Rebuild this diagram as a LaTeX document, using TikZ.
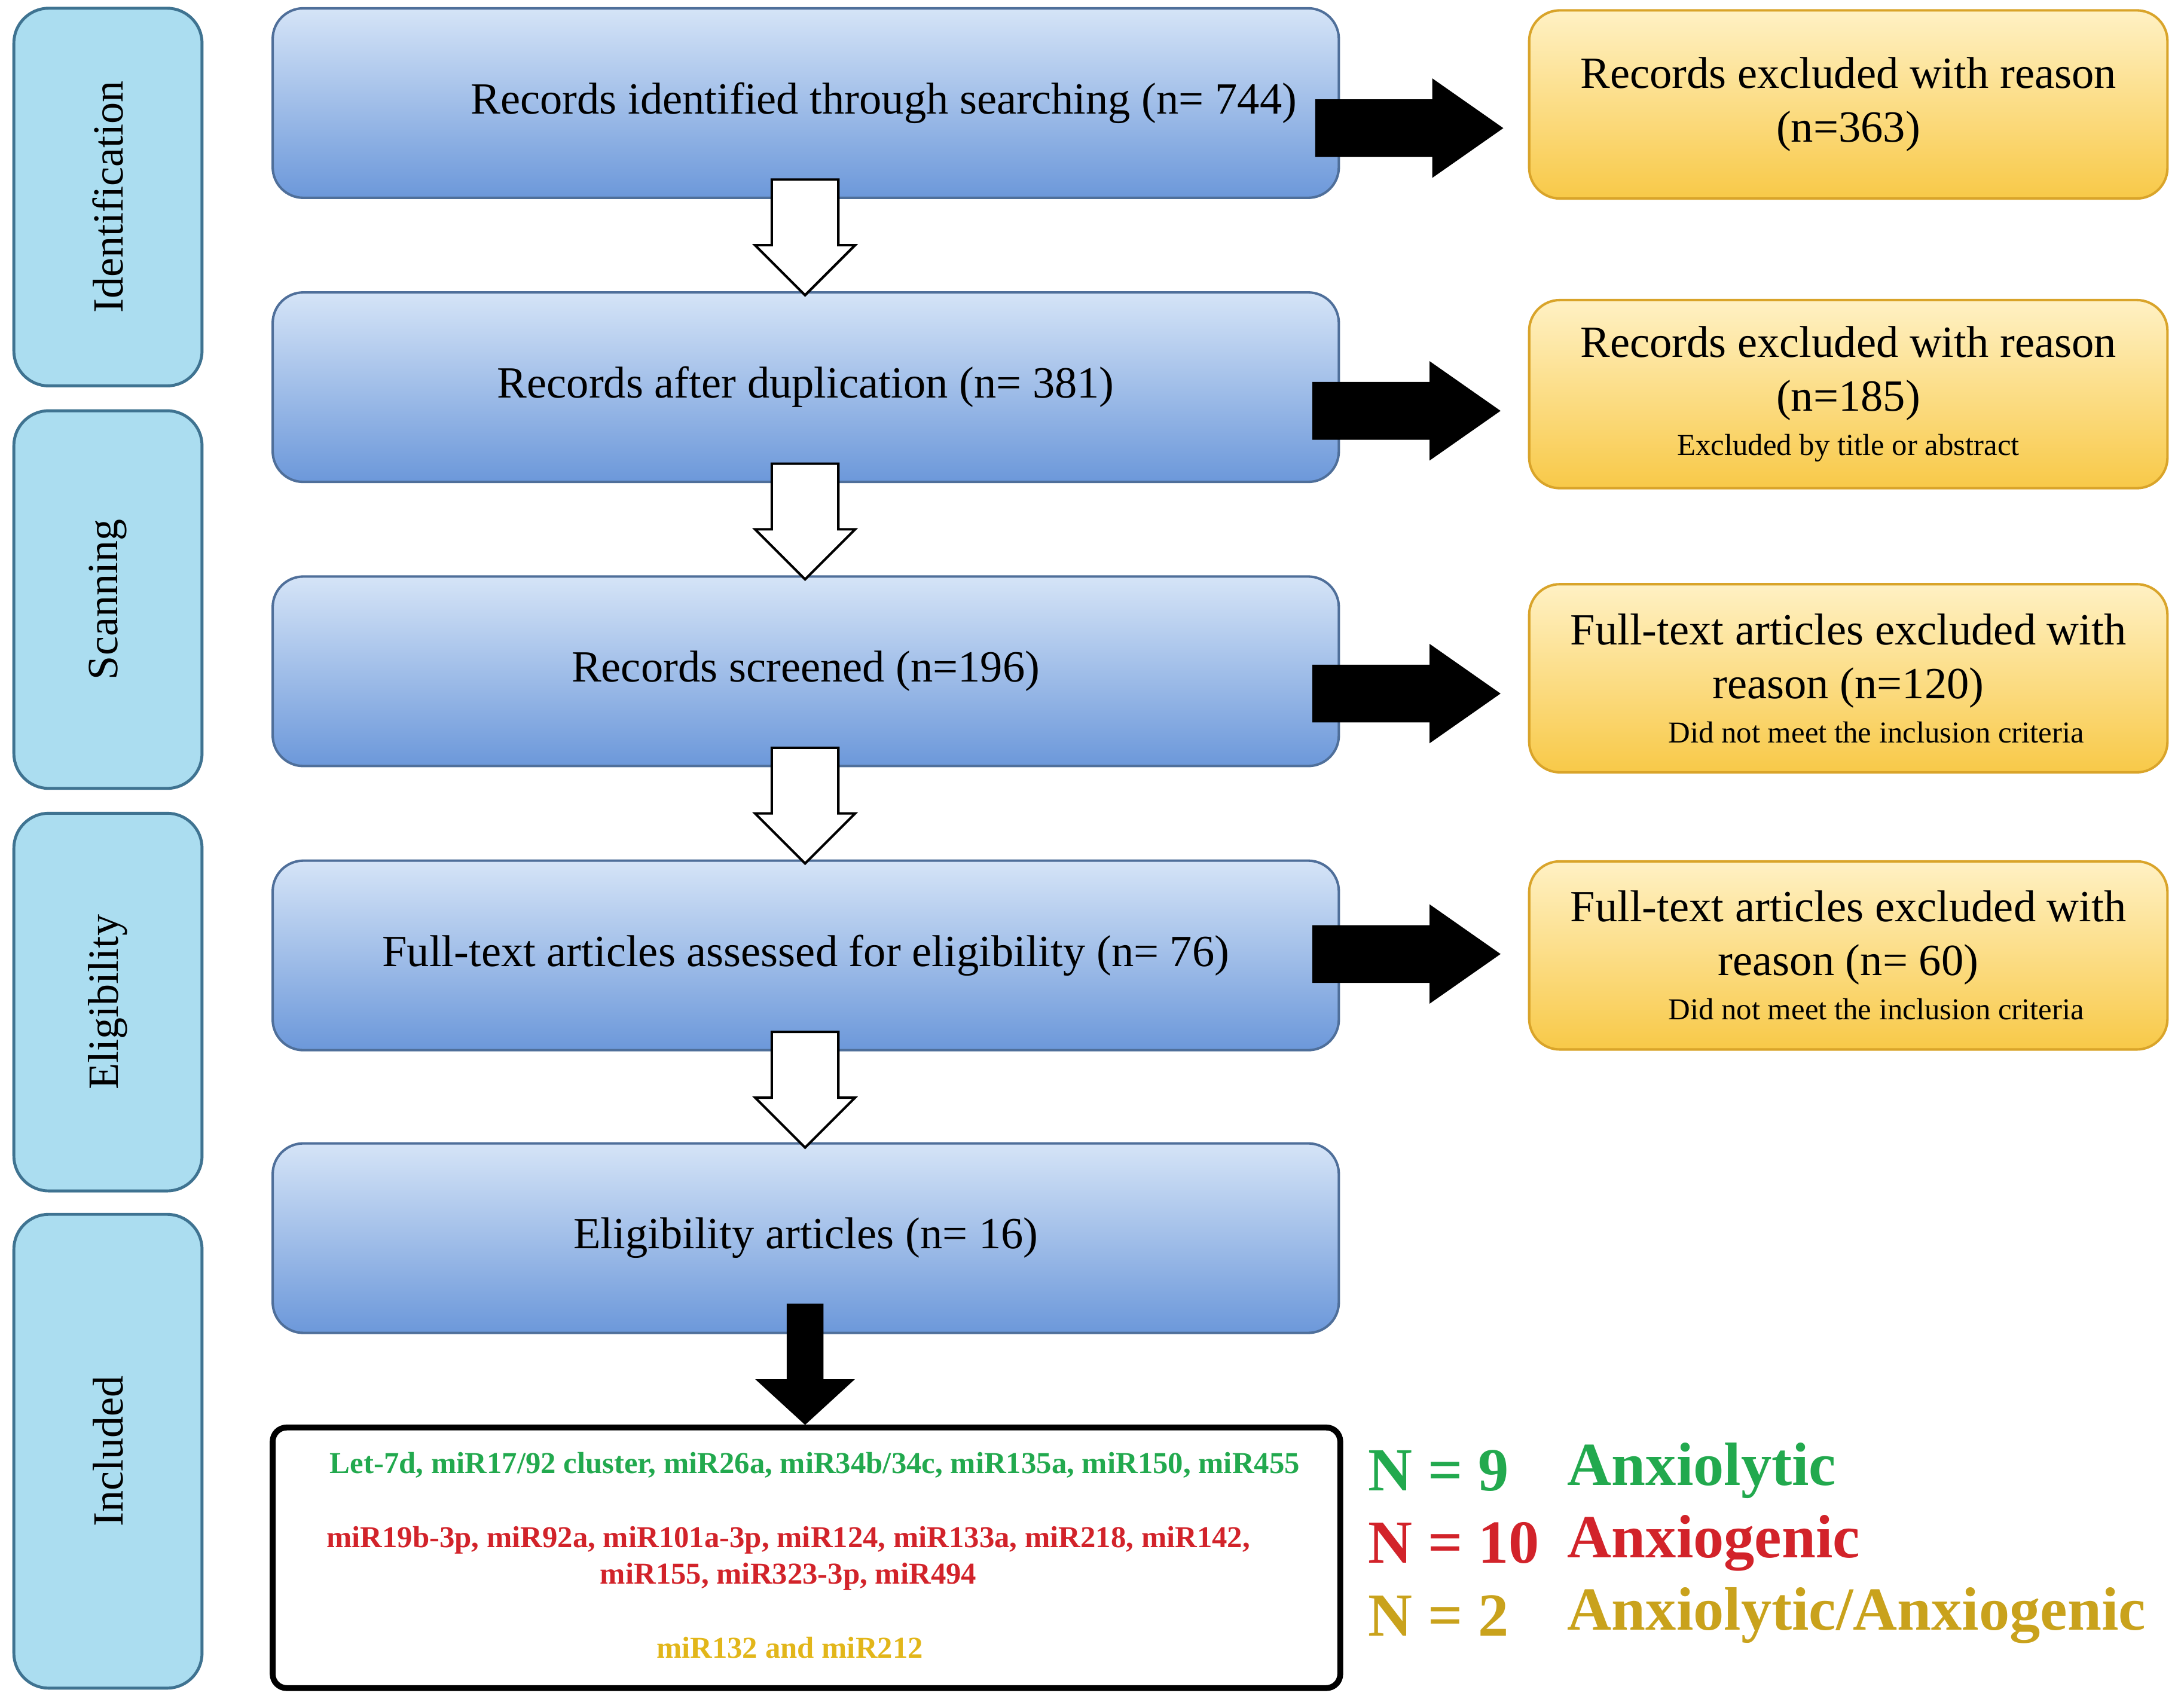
\documentclass[tikz,border=0pt]{standalone}
\usepackage{fontspec}
\setmainfont{Liberation Serif}
\usetikzlibrary{shapes.arrows}

\definecolor{stageblue}{HTML}{ABDDF0}
\definecolor{stageline}{HTML}{3F7391}
\definecolor{boxtop}{HTML}{D5E4F7}
\definecolor{boxbot}{HTML}{6C98DA}
\definecolor{boxline}{HTML}{4F6F9A}
\definecolor{exctop}{HTML}{FFF1C4}
\definecolor{excbot}{HTML}{F8C948}
\definecolor{excline}{HTML}{D9A42A}
\definecolor{mirgreen}{HTML}{22A94E}
\definecolor{mirred}{HTML}{D2232A}
\definecolor{mirgold}{HTML}{E2B61A}
\definecolor{ngold}{HTML}{C9A21C}

\begin{document}
\begin{tikzpicture}[x=0.01cm, y=-0.01cm,
  stage/.style={draw=stageline, line width=0.6pt, fill=stageblue, rounded corners=0.25cm,
    minimum width=1.35cm, inner sep=0pt, font=\fontsize{8.8}{10}\selectfont},
  stepbox/.style={draw=boxline, line width=0.5pt, top color=boxtop, bottom color=boxbot,
    rounded corners=0.22cm, minimum width=7.65cm, minimum height=1.36cm,
    font=\fontsize{9.1}{10}\selectfont},
  excl/.style={draw=excline, line width=0.5pt, top color=exctop, bottom color=excbot,
    rounded corners=0.22cm, minimum width=4.58cm, minimum height=1.35cm, align=center,
    font=\fontsize{9.1}{11}\selectfont},
  hollow/.style={single arrow, draw=black, fill=white, line width=0.5pt, shape border rotate=270,
    minimum height=0.83cm, inner xsep=0.23cm, inner ysep=0pt, single arrow head extend=0.12cm},
  blackarrow/.style={single arrow, fill=black, inner xsep=0pt, inner ysep=0.2cm,
    minimum height=1.35cm, single arrow head extend=0.15cm, single arrow tip angle=70},
  mir/.style={font=\fontsize{6.2}{7.4}\selectfont\bfseries, align=center},
  count/.style={anchor=west, font=\fontsize{12.5}{14}\selectfont\bfseries}]
  \useasboundingbox (0,0) rectangle (1568,1222);

  % stages
  \node[stage, minimum height=2.71cm] (ident) at (77.5,141.5) {\rotatebox{90}{Identification}};
  \node[stage, minimum height=2.71cm] (scan)  at (77.5,430.5) {\rotatebox{90}{Scanning}};
  \node[stage, minimum height=2.71cm] (elig)  at (77.5,719.5) {\rotatebox{90}{Eligibility}};
  \node[stage, minimum height=3.40cm] (incl)  at (77.5,1042)  {\rotatebox{90}{Included}};

  % main flow
  \node[stepbox] (found)    at (578.5,74)  {\hspace*{1.12cm}Records identified through searching (n= 744)};
  \node[stepbox] (dedup)    at (578.5,278) {Records after duplication (n= 381)};
  \node[stepbox] (screened) at (578.5,482) {Records screened (n=196)};
  \node[stepbox] (assessed) at (578.5,686) {Full-text articles assessed for eligibility (n= 76)};
  \node[stepbox] (eligible) at (578.5,889) {Eligibility articles (n= 16)};

  % exclusions
  \node[excl] (exc1) at (1327,75)  {Records excluded with reason\\(n=363)};
  \node[excl] (exc2) at (1327,283) {Records excluded with reason\\(n=185)\\[-2pt]{\fontsize{6.2}{7}\selectfont Excluded by title or abstract}};
  \node[excl] (exc3) at (1327,487) {Full-text articles excluded with\\reason (n=120)\\[-2pt]{\fontsize{6.2}{7}\selectfont\hspace*{0.4cm}Did not meet the inclusion criteria}};
  \node[excl] (exc4) at (1327,686) {Full-text articles excluded with\\reason (n= 60)\\[-2pt]{\fontsize{6.2}{7}\selectfont\hspace*{0.4cm}Did not meet the inclusion criteria}};

  % arrows
  \node[blackarrow] (out1) at (997,92)  {};
  \node[blackarrow] (out2) at (995,295) {};
  \node[blackarrow] (out3) at (995,498) {};
  \node[blackarrow] (out4) at (995,685) {};
  \node[hollow] (down1) at (578,158.5) {};
  \node[hollow] (down2) at (578,362.5) {};
  \node[hollow] (down3) at (578,566.5) {};
  \node[hollow] (down4) at (578,770.5) {};
  \node[blackarrow, shape border rotate=270, minimum height=0.87cm, inner xsep=0.125cm,
    inner ysep=0pt, single arrow head extend=0.225cm, single arrow tip angle=95] (down5) at (578,973.5) {};

  % result
  \node[draw=black, line width=1.2pt, rounded corners=0.1cm, minimum width=7.66cm,
    minimum height=1.87cm] (result) at (579,1118.5) {};
  \node[mir, text=mirgreen] (lytic) at (585,1052) {Let-7d, miR17/92 cluster, miR26a, miR34b/34c, miR135a, miR150, miR455};
  \node[mir, text=mirred] (genic) at (566,1119) {miR19b-3p, miR92a, miR101a-3p, miR124, miR133a, miR218, miR142,\\miR155, miR323-3p, miR494};
  \node[mir, text=mirgold] (both) at (567,1183) {miR132 and miR212};

  \node[count, text=mirgreen] (n1) at (970,1056) {N = 9};
  \node[count, text=mirred]   (n2) at (970,1108) {N = 10};
  \node[count, text=ngold]    (n3) at (970,1160) {N = 2};
  \node[count, text=mirgreen] (t1) at (1113,1056) {Anxiolytic};
  \node[count, text=mirred]   (t2) at (1113,1108) {Anxiogenic};
  \node[count, text=ngold]    (t3) at (1113,1160) {Anxiolytic/Anxiogenic};
\end{tikzpicture}
\end{document}
